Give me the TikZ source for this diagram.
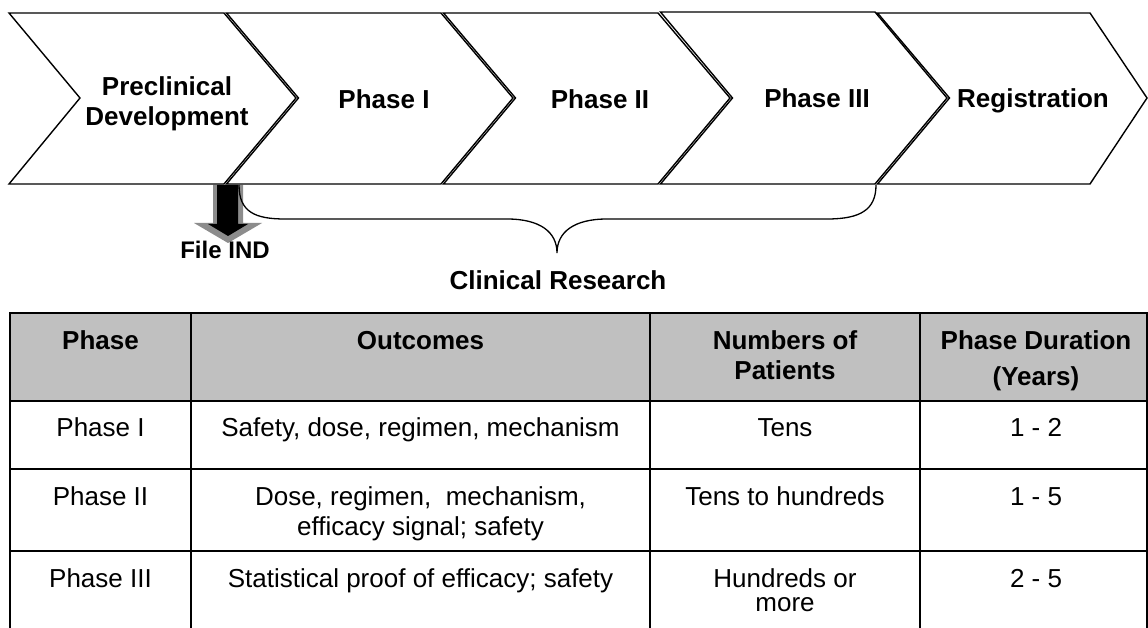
\documentclass[tikz,border=0pt]{standalone}
\usepackage{fontspec}
\setmainfont{Liberation Sans}
\definecolor{headfill}{HTML}{C0C0C0}
\definecolor{shadowgray}{HTML}{8C8C8C}
\begin{document}
\begin{tikzpicture}[x=1pt,y=-1pt,
  chev/.style={draw=black,fill=white,line width=1.4pt,line join=miter},
  lbl/.style={font=\fontsize{26}{30}\selectfont\bfseries,anchor=base,inner sep=0pt},
  cell/.style={font=\fontsize{26}{30}\selectfont,anchor=base,inner sep=0pt},
  hcell/.style={font=\fontsize{26}{30}\selectfont\bfseries,anchor=base,inner sep=0pt},
  gridline/.style={draw=black,line width=2pt},
  bracepath/.style={draw=black,line width=1.3pt},
]
\useasboundingbox (0,0) rectangle (1148,628);
\clip (0,0) rectangle (1148,628);
\fill[white] (0,0) rectangle (1148,628);

% File IND arrow
\fill[shadowgray] (213,185) -- (243,185) -- (243,223) -- (262,223) -- (228,243) -- (194,223) -- (213,223) -- cycle;
\fill[black] (217,185) -- (238,185) -- (238,224) -- (248,224) -- (228,236) -- (208,224) -- (217,224) -- cycle;

% chevrons
\draw[chev] (9,13) -- (224,13) -- (296,98) -- (224,184) -- (9,184) -- (80,98) -- cycle;
\draw[chev] (226.5,13) -- (441,13) -- (513,98) -- (441,184) -- (226.5,184) -- (298.5,98) -- cycle;
\draw[chev] (443.5,13) -- (658,13) -- (730,98) -- (658,184) -- (443.5,184) -- (515.5,98) -- cycle;
\draw[chev] (660.5,12) -- (875,12) -- (947,98) -- (875,184) -- (660.5,184) -- (732.5,98) -- cycle;
\draw[chev] (877.5,13) -- (1090,13) -- (1147,98) -- (1090,184) -- (877.5,184) -- (949.5,98) -- cycle;

\node[lbl] (pre1) at (167,95.5) {Preclinical};
\node[lbl] (pre2) at (167,126) {Development};
\node[lbl] (ph1) at (384,109) {Phase I};
\node[lbl] (ph2) at (600,109) {Phase II};
\node[lbl] (ph3) at (817,108) {Phase III};
\node[lbl] (reg) at (1033,108) {Registration};

% brace
\coordinate (bl) at (239,185);
\coordinate (br) at (876,185);
\coordinate (bt) at (557,253);
\draw[bracepath] (bl) .. controls (239,212) and (255,219) .. (285,219) -- (507,219)
  .. controls (540,219) and (557,232) .. (bt)
  .. controls (557,232) and (574,219) .. (607,219) -- (827,219)
  .. controls (860,219) and (876,210) .. (br);

\node[font=\fontsize{24}{28}\selectfont\bfseries,anchor=base,inner sep=0pt] (ind) at (225,258.5) {File IND};
\node[lbl] (clin) at (558,289.5) {Clinical Research};

% table
\fill[headfill] (10,313) rectangle (1147,401);
\draw[gridline] (9,313) -- (1148,313);
\draw[gridline] (9,401) -- (1148,401);
\draw[gridline] (9,469) -- (1148,469);
\draw[gridline] (9,551) -- (1148,551);
\foreach \x in {10,191,650,919.5,1147} \draw[gridline] (\x,312) -- (\x,640);

\node[hcell] (h1) at (100.5,349.5) {Phase};
\node[hcell] (h2) at (420.5,349.5) {Outcomes};
\node[hcell] (h3a) at (785,349.5) {Numbers of};
\node[hcell] (h3b) at (785,379.5) {Patients};
\node[hcell] (h4a) at (1036,349.5) {Phase Duration};
\node[hcell] (h4b) at (1036,385) {(Years)};

\node[cell] (r1a) at (100.5,436.5) {Phase I};
\node[cell] (r1b) at (420.5,436.5) {Safety, dose, regimen, mechanism};
\node[cell] (r1c) at (785,436.5) {Tens};
\node[cell] (r1d) at (1036,436.5) {1 - 2};

\node[cell] (r2a) at (100.5,505.5) {Phase II};
\node[cell] (r2b) at (420.5,505.5) {Dose, regimen,\ \ mechanism,};
\node[cell] (r2b2) at (420.5,535) {efficacy signal; safety};
\node[cell] (r2c) at (785,505.5) {Tens to hundreds};
\node[cell] (r2d) at (1036,505.5) {1 - 5};

\node[cell] (r3a) at (100.5,587.5) {Phase III};
\node[cell] (r3b) at (420.5,587.5) {Statistical proof of efficacy; safety};
\node[cell] (r3c) at (785,587.5) {Hundreds or};
\node[cell] (r3c2) at (785,611) {more};
\node[cell] (r3d) at (1036,587.5) {2 - 5};
\end{tikzpicture}
\end{document}
